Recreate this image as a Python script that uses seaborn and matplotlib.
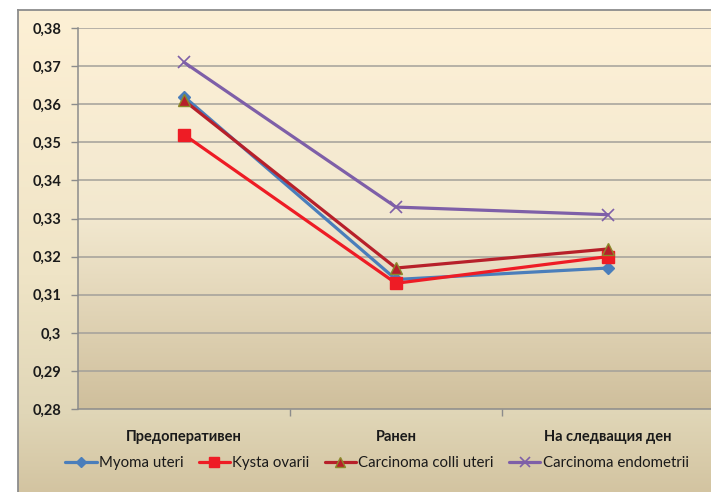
import numpy as np
import pandas as pd
import matplotlib
matplotlib.use("Agg")
import matplotlib.pyplot as plt
from matplotlib.colors import LinearSegmentedColormap
import seaborn as sns

# ---- data -------------------------------------------------------------
periods = ["Предоперативен", "Ранен", "На следващия ден"]
myoma_uteri = [0.362, 0.314, 0.317]
kysta_ovarii = [0.352, 0.313, 0.320]
carcinoma_colli_uteri = [0.361, 0.317, 0.322]
carcinoma_endometrii = [0.371, 0.333, 0.331]
series_names = ["Myoma uteri", "Kysta ovarii", "Carcinoma colli uteri", "Carcinoma endometrii"]
y_ticks = [0.28, 0.29, 0.30, 0.31, 0.32, 0.33, 0.34, 0.35, 0.36, 0.37, 0.38]

series_values = [myoma_uteri, kysta_ovarii, carcinoma_colli_uteri, carcinoma_endometrii]
df = pd.DataFrame(
    [(p, name, v) for name, vals in zip(series_names, series_values) for p, v in zip(periods, vals)],
    columns=["period", "group", "value"],
)

# ---- style ------------------------------------------------------------
sns.set_theme(style="white")
plt.rcParams["font.family"] = ["Lato", "Noto Sans", "DejaVu Sans"]

W, H = 711, 492
fig = plt.figure(figsize=(W / 100, H / 100), dpi=100)
fig.patch.set_facecolor("white")

# chart area with vertical gradient and grey frame
fx0, fy0 = 18, 10
bg = fig.add_axes([fx0 / W, 0, (W - fx0) / W + 0.01, (H - fy0) / H], zorder=-10)
chart_cmap = LinearSegmentedColormap.from_list(
    "chart", [(0, "#fdf0d5"), (0.55, "#efe4c6"), (0.84, "#e0d6b7"), (1, "#d3c4a1")]
)
bg.imshow(np.linspace(0, 1, 256).reshape(-1, 1), aspect="auto", cmap=chart_cmap,
          extent=[0, 1, 0, 1], origin="upper", zorder=0)
bg.set_xlim(0, 1)
bg.set_ylim(0, 1)
bg.set_xticks([])
bg.set_yticks([])
for s in ["right", "bottom"]:
    bg.spines[s].set_visible(False)
for s in ["left", "top"]:
    bg.spines[s].set_color("#8c8c8c")
    bg.spines[s].set_linewidth(1.3)
    bg.spines[s].set_zorder(5)

# plot area
px0, px1, py_top, py_bot = 78, 714, 28, 409
ax = fig.add_axes([px0 / W, (H - py_bot) / H, (px1 - px0) / W, (py_bot - py_top) / H])
plot_cmap = LinearSegmentedColormap.from_list("plot", ["#fdf0d6", "#f2e8cf", "#cfbf9c"])
ax.imshow(np.linspace(0, 1, 256).reshape(-1, 1), aspect="auto", cmap=plot_cmap,
          extent=[-0.5, 2.5, 0.28, 0.38], origin="upper", zorder=0)

colors = ["#4a7ebb", "#ee1c25", "#b7202a", "#7e5fa8"]
markers = ["D", "s", "^", "x"]
msizes = [6.5, 8.5, 8.5, 9]
edges = ["#4a7ebb", "#ee1c25", "#8a8a2a", "#7e5fa8"]

for name, col, mk, ms, ec in zip(series_names, colors, markers, msizes, edges):
    sub = df[df["group"] == name]
    sns.lineplot(data=sub, x="period", y="value", ax=ax, color=col, marker=mk,
                 markersize=ms, markeredgecolor=ec, markeredgewidth=1.0 if mk != "x" else 1.2,
                 linewidth=2.3, label=name, zorder=3, sort=False)

ax.set_xlim(-0.5, 2.5)
ax.set_ylim(0.28, 0.38)
ax.set_xlabel("")
ax.set_ylabel("")

# grid and axes lines
ax.set_yticks(y_ticks)
ax.set_yticklabels([f"{v:.2f}".rstrip("0").replace(".", ",") for v in y_ticks],
                   fontsize=10.5, fontweight="bold", color="#1a1a1a")
for v in y_ticks[1:]:
    ax.axhline(v, color="#a3a09a", linewidth=1.1, zorder=1)
ax.tick_params(axis="y", length=5, width=1, color="#8c8c8c", pad=7, left=True)

ax.set_xticks([0.5, 1.5])
ax.set_xticklabels([])
ax.set_xticks([0, 1, 2], minor=True)
ax.set_xticklabels(periods, minor=True, fontsize=10.5, fontweight="bold", color="#1a1a1a")
ax.tick_params(axis="x", which="major", length=5, width=1, color="#8c8c8c", bottom=True)
ax.tick_params(axis="x", which="minor", length=0, pad=15)

for s in ["top", "right"]:
    ax.spines[s].set_visible(False)
for s in ["left", "bottom"]:
    ax.spines[s].set_color("#8c8c8c")
    ax.spines[s].set_linewidth(1.1)

leg = ax.legend(loc="center", bbox_to_anchor=(377 / W, (H - 463) / H),
                bbox_transform=fig.transFigure,
                ncol=4, frameon=False, fontsize=10.8, handlelength=2.1, handletextpad=0.15,
                columnspacing=1.0, markerscale=0.85)
for t in leg.get_texts():
    t.set_color("#1a1a1a")

fig.savefig("out.png", dpi=100)
